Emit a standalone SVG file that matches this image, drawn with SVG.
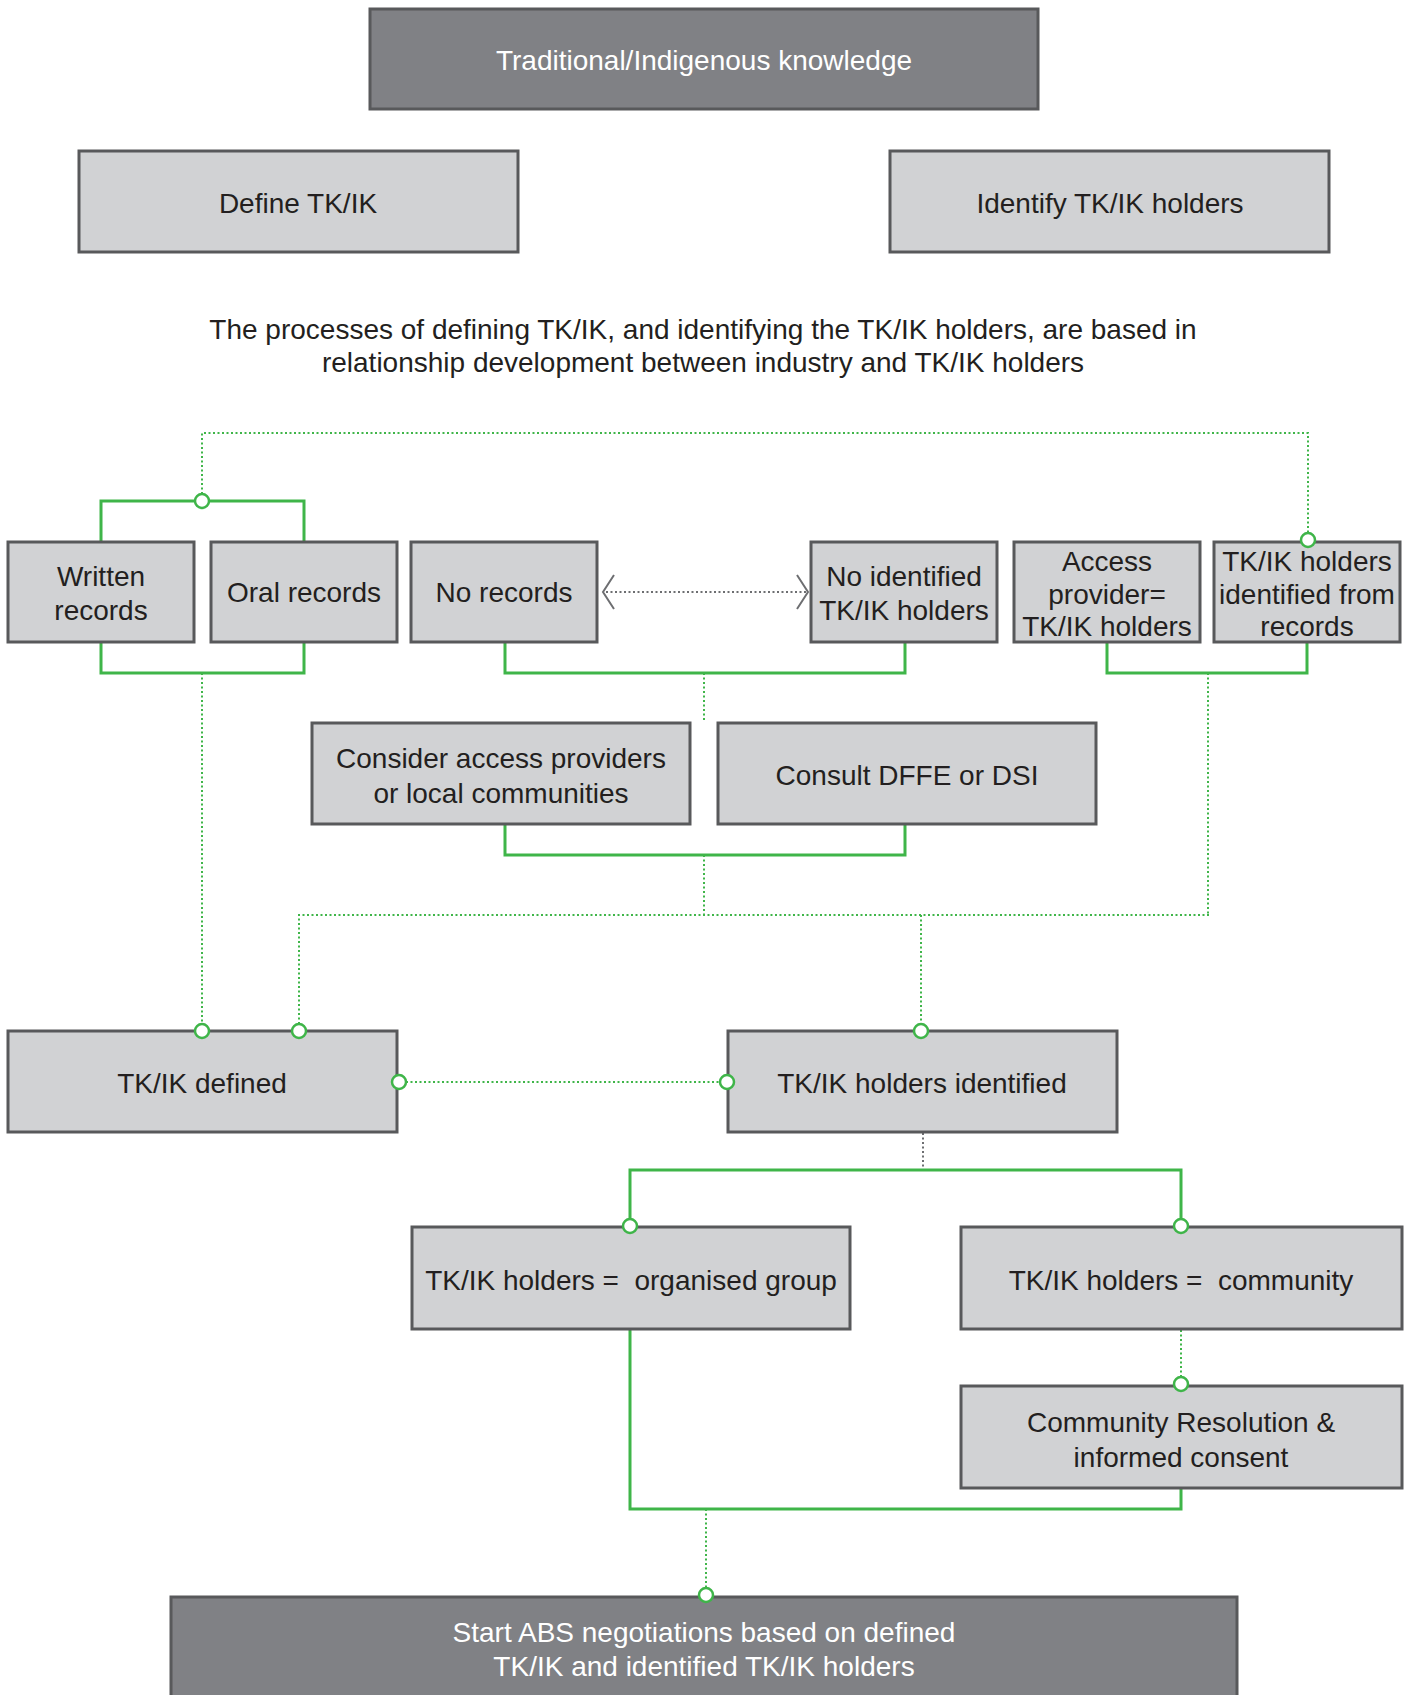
<svg xmlns="http://www.w3.org/2000/svg" width="1410" height="1695" viewBox="0 0 1410 1695">
  <style>
    .lt { fill: #d1d2d4; stroke: #58595b; stroke-width: 3; }
    .dk { fill: #808185; stroke: #58595b; stroke-width: 3; }
    text { font-family: "Liberation Sans", Arial, sans-serif; font-size: 28px; text-anchor: middle; }
    .tl { fill: #231f20; }
    .tw { fill: #ffffff; }
    .solid { fill: none; stroke: #3fb549; stroke-width: 3; }
    .dot { fill: none; stroke: #3fb549; stroke-width: 2; stroke-dasharray: 2 2.5; }
    .gdot { fill: none; stroke: #6d6e71; stroke-width: 2; stroke-dasharray: 2 2.5; }
    .chev { fill: none; stroke: #6d6e71; stroke-width: 2; }
    .knob { fill: #ffffff; stroke: #3fb549; stroke-width: 2.5; }
  </style>

  <rect width="1410" height="1695" fill="#ffffff"/>

  <!-- connectors -->
  <g id="connectors">
    <!-- record brackets and the feedback loop above them -->
    <path class="solid" d="M101 542 V501 H304 V542"/>
    <path class="dot" d="M202 494 V433 H1308 V533"/>
    <path class="solid" d="M101 642 V673 H304 V642"/>
    <path class="solid" d="M505 642 V673 H905 V642"/>
    <path class="solid" d="M1107 642 V673 H1307 V642"/>
    <path class="dot" d="M202 673 V1024"/>
    <path class="dot" d="M704 673 V722"/>
    <path class="dot" d="M1208 673 V915"/>

    <!-- no records <-> no identified holders -->
    <path class="gdot" d="M606 592 H806"/>
    <path class="chev" d="M614 575 L603 592 L614 609"/>
    <path class="chev" d="M797 575 L808 592 L797 609"/>

    <!-- consultation bracket -->
    <path class="solid" d="M505 824 V855 H905 V824"/>
    <path class="dot" d="M704 855 V915"/>
    <path class="dot" d="M299 1024 V915 H1210"/>
    <path class="dot" d="M921 915 V1024"/>

    <!-- defined <-> identified -->
    <path class="dot" d="M406 1082 H720"/>

    <!-- holders split -->
    <path class="gdot" d="M923 1133 V1170"/>
    <path class="solid" d="M630 1219 V1170 H1181 V1219"/>
    <path class="dot" d="M1181 1330 V1377"/>
    <path class="solid" d="M630 1329 V1509 H1181 V1488"/>
    <path class="dot" d="M706 1509 V1588"/>
  </g>

  <g id="n-tk">
    <rect class="dk" x="370" y="9" width="668" height="100"/>
    <text class="tw" x="704" y="70">Traditional/Indigenous knowledge</text>
  </g>
  <g id="n-define">
    <rect class="lt" x="79" y="151" width="439" height="101"/>
    <text class="tl" x="298" y="213">Define TK/IK</text>
  </g>
  <g id="n-identify">
    <rect class="lt" x="890" y="151" width="439" height="101"/>
    <text class="tl" x="1110" y="213">Identify TK/IK holders</text>
  </g>
  <g id="n-note">
    <text class="tl" x="703" y="339">The processes of defining TK/IK, and identifying the TK/IK holders, are based in</text>
    <text class="tl" x="703" y="372">relationship development between industry and TK/IK holders</text>
  </g>

  <g id="n-written">
    <rect class="lt" x="8" y="542" width="186" height="100"/>
    <text class="tl" x="101" y="586">Written</text>
    <text class="tl" x="101" y="620">records</text>
  </g>
  <g id="n-oral">
    <rect class="lt" x="211" y="542" width="186" height="100"/>
    <text class="tl" x="304" y="602">Oral records</text>
  </g>
  <g id="n-norecords">
    <rect class="lt" x="411" y="542" width="186" height="100"/>
    <text class="tl" x="504" y="602">No records</text>
  </g>
  <g id="n-noholders">
    <rect class="lt" x="811" y="542" width="186" height="100"/>
    <text class="tl" x="904" y="586">No identified</text>
    <text class="tl" x="904" y="620">TK/IK holders</text>
  </g>
  <g id="n-access">
    <rect class="lt" x="1014" y="542" width="186" height="100"/>
    <text class="tl" x="1107" y="571">Access</text>
    <text class="tl" x="1107" y="604">provider=</text>
    <text class="tl" x="1107" y="636">TK/IK holders</text>
  </g>
  <g id="n-fromrecords">
    <rect class="lt" x="1214" y="542" width="186" height="100"/>
    <text class="tl" x="1307" y="571">TK/IK holders</text>
    <text class="tl" x="1307" y="604">identified from</text>
    <text class="tl" x="1307" y="636">records</text>
  </g>

  <g id="n-consider">
    <rect class="lt" x="312" y="723" width="378" height="101"/>
    <text class="tl" x="501" y="768">Consider access providers</text>
    <text class="tl" x="501" y="803">or local communities</text>
  </g>
  <g id="n-consult">
    <rect class="lt" x="718" y="723" width="378" height="101"/>
    <text class="tl" x="907" y="785">Consult DFFE or DSI</text>
  </g>

  <g id="n-defined">
    <rect class="lt" x="8" y="1031" width="389" height="101"/>
    <text class="tl" x="202" y="1093">TK/IK defined</text>
  </g>
  <g id="n-identified">
    <rect class="lt" x="728" y="1031" width="389" height="101"/>
    <text class="tl" x="922" y="1093">TK/IK holders identified</text>
  </g>

  <g id="n-group">
    <rect class="lt" x="412" y="1227" width="438" height="102"/>
    <text class="tl" x="631" y="1290" xml:space="preserve">TK/IK holders =  organised group</text>
  </g>
  <g id="n-community">
    <rect class="lt" x="961" y="1227" width="441" height="102"/>
    <text class="tl" x="1181" y="1290" xml:space="preserve">TK/IK holders =  community</text>
  </g>
  <g id="n-resolution">
    <rect class="lt" x="961" y="1386" width="441" height="102"/>
    <text class="tl" x="1181" y="1432">Community Resolution &amp;</text>
    <text class="tl" x="1181" y="1467">informed consent</text>
  </g>

  <g id="n-start">
    <rect class="dk" x="171" y="1597" width="1066" height="112"/>
    <text class="tw" x="704" y="1642">Start ABS negotiations based on defined</text>
    <text class="tw" x="704" y="1676">TK/IK and identified TK/IK holders</text>
  </g>

  <!-- connector end knobs, drawn over the box borders -->
  <g id="connector-ends">
    <circle class="knob" cx="202" cy="501" r="7"/>
    <circle class="knob" cx="1308" cy="540" r="7"/>
    <circle class="knob" cx="202" cy="1031" r="7"/>
    <circle class="knob" cx="299" cy="1031" r="7"/>
    <circle class="knob" cx="921" cy="1031" r="7"/>
    <circle class="knob" cx="399" cy="1082" r="7"/>
    <circle class="knob" cx="727" cy="1082" r="7"/>
    <circle class="knob" cx="630" cy="1226" r="7"/>
    <circle class="knob" cx="1181" cy="1226" r="7"/>
    <circle class="knob" cx="1181" cy="1384" r="7"/>
    <circle class="knob" cx="706" cy="1595" r="7"/>
  </g>
</svg>
